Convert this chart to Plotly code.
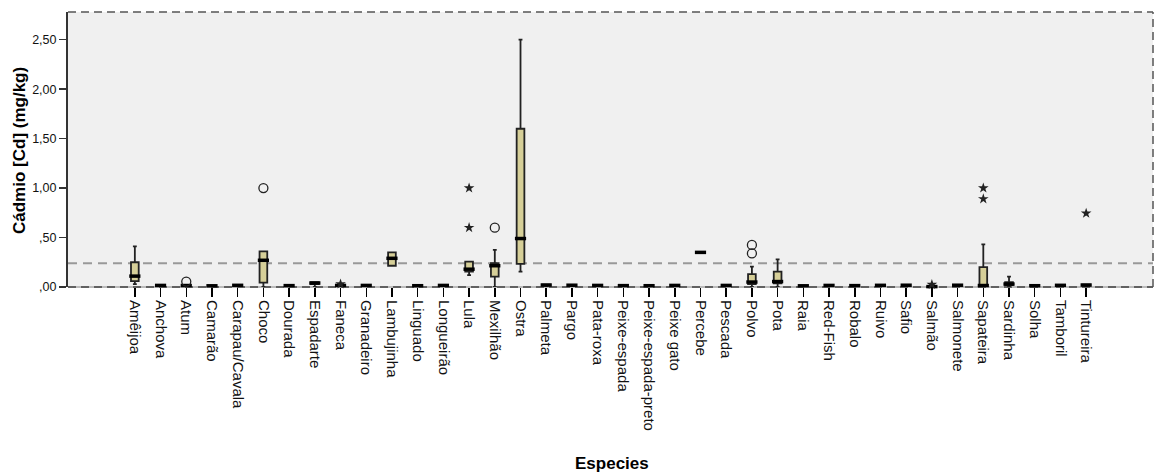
import plotly.graph_objects as go

species = ["Amêijoa", "Anchova", "Atum", "Camarão", "Carapau/Cavala", "Choco", "Dourada",
           "Espadarte", "Faneca", "Granadeiro", "Lambujinha", "Linguado", "Longueirão", "Lula",
           "Mexilhão", "Ostra", "Palmeta", "Pargo", "Pata-roxa", "Peixe-espada",
           "Peixe-espada-preto", "Peixe gato", "Percebe", "Pescada", "Polvo", "Pota", "Raia",
           "Red-Fish", "Robalo", "Ruivo", "Safio", "Salmão", "Salmonete", "Sapateira",
           "Sardinha", "Solha", "Tamboril", "Tintureira"]

lower = [0.03, 0.0, 0.0, 0.0, 0.0, 0.0, 0.0, 0.0, 0.0, 0.0, 0.215, 0.0, 0.0, 0.12,
         0.0, 0.155, 0.0, 0.0, 0.0, 0.0, 0.0, 0.0, 0.35, 0.0, 0.0, 0.0, 0.0,
         0.0, 0.0, 0.0, 0.0, 0.0, 0.0, 0.0, 0.0, 0.0, 0.0, 0.0]
q1 = [0.06, 0.012, 0.01, 0.01, 0.014, 0.045, 0.01, 0.03, 0.01, 0.012, 0.215, 0.01, 0.012, 0.155,
      0.105, 0.233, 0.014, 0.014, 0.012, 0.01, 0.01, 0.012, 0.35, 0.012, 0.03, 0.037, 0.01,
      0.012, 0.01, 0.014, 0.014, 0.0, 0.014, 0.01, 0.02, 0.01, 0.012, 0.014]
median = [0.11, 0.016, 0.015, 0.012, 0.017, 0.27, 0.014, 0.04, 0.016, 0.016, 0.29, 0.013, 0.016, 0.18,
          0.215, 0.49, 0.02, 0.018, 0.016, 0.014, 0.013, 0.016, 0.35, 0.016, 0.05, 0.055, 0.012,
          0.016, 0.014, 0.017, 0.018, 0.004, 0.018, 0.015, 0.03, 0.013, 0.017, 0.02]
q3 = [0.25, 0.018, 0.02, 0.014, 0.02, 0.36, 0.016, 0.05, 0.02, 0.018, 0.35, 0.016, 0.018, 0.256,
      0.24, 1.60, 0.024, 0.02, 0.018, 0.016, 0.015, 0.018, 0.35, 0.018, 0.13, 0.155, 0.014,
      0.018, 0.016, 0.02, 0.02, 0.006, 0.02, 0.20, 0.05, 0.015, 0.02, 0.024]
upper = [0.41, 0.018, 0.02, 0.014, 0.02, 0.36, 0.016, 0.05, 0.02, 0.018, 0.35, 0.016, 0.018, 0.256,
         0.375, 2.50, 0.024, 0.02, 0.018, 0.016, 0.015, 0.018, 0.35, 0.018, 0.205, 0.28, 0.014,
         0.018, 0.016, 0.02, 0.02, 0.006, 0.02, 0.43, 0.105, 0.015, 0.02, 0.024]

circle_species = ["Atum", "Choco", "Mexilhão", "Polvo", "Polvo"]
circle_values = [0.055, 1.00, 0.60, 0.34, 0.425]

star_species = ["Faneca", "Lula", "Lula", "Salmão", "Sapateira", "Sapateira", "Tintureira"]
star_values = [0.03, 0.60, 1.00, 0.025, 0.89, 1.00, 0.745]

reference_value = 0.24

ytick_vals = [0, 0.5, 1.0, 1.5, 2.0, 2.5]
ytick_text = [",00", ",50", "1,00", "1,50", "2,00", "2,50"]

FONT = "Liberation Sans, Arial, sans-serif"

fig = go.Figure()

fig.add_trace(go.Box(
    x=species, q1=q1, median=median, q3=q3, lowerfence=lower, upperfence=upper,
    boxpoints=False, width=0.3, whiskerwidth=0.5,
    fillcolor="#D6CF98", line=dict(color="#222222", width=1.8),
    showlegend=False, hoverinfo="skip",
))

fig.add_trace(go.Scatter(
    x=species, y=median, mode="markers",
    marker=dict(symbol="line-ew", size=8, line=dict(color="black", width=3.5)),
    showlegend=False, cliponaxis=False, hoverinfo="skip",
))

fig.add_trace(go.Scatter(
    x=circle_species, y=circle_values, mode="markers",
    marker=dict(symbol="circle-open", size=9, color="#222", line=dict(width=1.3)),
    showlegend=False, cliponaxis=False, hoverinfo="skip",
))

fig.add_trace(go.Scatter(
    x=star_species, y=star_values, mode="markers",
    marker=dict(symbol="star", size=8, color="#222", line=dict(width=0)),
    showlegend=False, cliponaxis=False, hoverinfo="skip",
))

# reference line
fig.add_shape(type="line", xref="paper", x0=0, x1=1, yref="y", y0=reference_value, y1=reference_value,
              line=dict(color="#999999", width=2, dash="9px,6px"), layer="below")
# frame: top, right, bottom dashed
fig.add_shape(type="line", xref="paper", x0=0, x1=1, yref="paper", y0=1, y1=1,
              line=dict(color="#555555", width=1.5, dash="8px,5px"))
fig.add_shape(type="line", xref="paper", x0=1, x1=1, yref="paper", y0=0, y1=1,
              line=dict(color="#555555", width=1.5, dash="8px,5px"))
fig.add_shape(type="line", xref="paper", x0=0, x1=1, yref="paper", y0=0, y1=0,
              line=dict(color="#bbbbbb", width=2), layer="below")
fig.add_shape(type="line", xref="paper", x0=0, x1=1, yref="paper", y0=0, y1=0,
              line=dict(color="#444444", width=1.5, dash="8px,5px"), layer="below")

# axis titles
fig.add_annotation(text="<b>Cádmio [Cd] (mg/kg)</b>", xref="paper", yref="paper",
                   x=-0.0452, y=0.498, xanchor="center", yanchor="middle",
                   textangle=-90, showarrow=False,
                   font=dict(size=17, family=FONT, color="black"))
fig.add_annotation(text="<b>Especies</b>", xref="paper", yref="paper",
                   x=0.501, y=-0.64, xanchor="center", yanchor="middle", showarrow=False,
                   font=dict(size=17, family=FONT, color="black"))

fig.update_layout(
    width=1155, height=473,
    margin=dict(l=68, r=2, t=12, b=186, autoexpand=False),
    paper_bgcolor="white", plot_bgcolor="#F0F0F0",
    font=dict(family=FONT, color="black"),
    showlegend=False,
)

fig.update_xaxes(
    type="category", categoryorder="array", categoryarray=species,
    range=[-2.6, 39.6], showgrid=False, zeroline=False, showline=False,
    ticks="outside", ticklen=9, tickwidth=1.5, tickcolor="black",
    tickangle=90, tickfont=dict(size=15, family=FONT, color="#111"),
    automargin=False,
)

fig.update_yaxes(
    range=[0, 2.78], tickvals=ytick_vals, ticktext=ytick_text,
    showgrid=False, zeroline=False, showline=True, linecolor="#333333", linewidth=2,
    ticks="outside", ticklen=7, tickwidth=1.5, tickcolor="#333333",
    tickfont=dict(size=12.5, color="#111"),
    automargin=False,
)

fig.write_html(
    "out.html",
    config={"displayModeBar": False, "staticPlot": True},
    post_script="document.body.style.margin='0';document.body.style.overflow='hidden';",
)
